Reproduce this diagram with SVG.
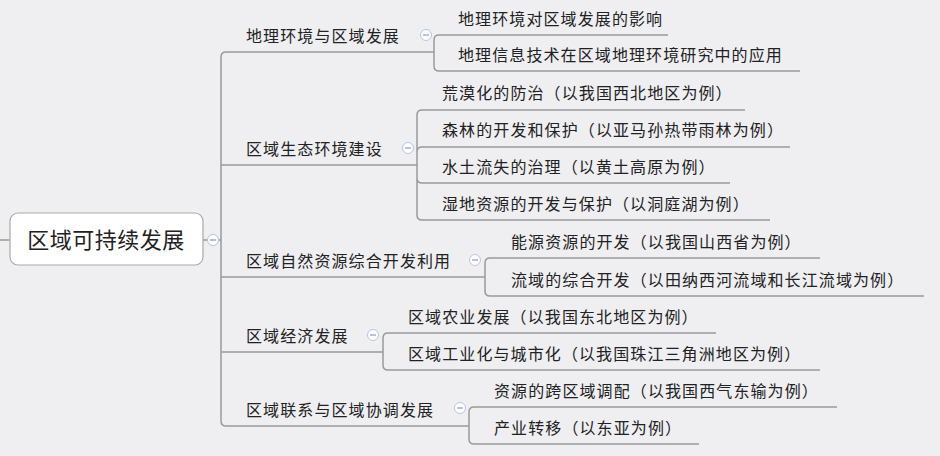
<svg xmlns="http://www.w3.org/2000/svg" width="940" height="456" viewBox="0 0 940 456">
<style>
.c{fill:none;stroke:#9a9a9a;stroke-width:1.5}
text{font-family:"Noto Sans CJK SC","Noto Sans",sans-serif;fill:#222}
.t{font-size:16px;letter-spacing:1.1px}
.r{font-size:22px;letter-spacing:0.5px}
.m{fill:#fff;stroke:#b8c4e8;stroke-width:1}
.mt{stroke:#8a9ad0;stroke-width:1.2}
</style>
<rect width="940" height="456" fill="#efeff2"/>
<g id="connectors">
<path class="c" d="M0 240H10M203 240H221"/>
<path class="c" d="M221 240V57Q221 52 226 52H434M221 240V421Q221 426 226 426H469M221 165H417M221 277H485M221 352H383"/>
<path class="c" d="M434 52V40Q434 35 439 35H668M434 52V66Q434 71 439 71H800"/>
<path class="c" d="M417 165V115Q417 110 422 110H745M417 165V152Q417 147 422 147H790M417 165V178Q417 183 422 183H730M417 165V215Q417 220 422 220H770"/>
<path class="c" d="M485 277V263Q485 258 490 258H820M485 277V291Q485 296 490 296H924"/>
<path class="c" d="M383 352V338Q383 333 388 333H716M383 352V365Q383 370 388 370H820"/>
<path class="c" d="M469 426V412Q469 407 474 407H837M469 426V439Q469 444 474 444H699"/>
</g>
<g id="root"><rect x="10" y="213" width="193" height="52" rx="8" fill="#fff" stroke="#aaa" stroke-width="1.2"/><text class="r" x="106" y="248" text-anchor="middle">区域可持续发展</text></g>
<g id="b1"><text class="t" x="246" y="42">地理环境与区域发展</text></g>
<g id="b2"><text class="t" x="246" y="155">区域生态环境建设</text></g>
<g id="b3"><text class="t" x="246" y="267">区域自然资源综合开发利用</text></g>
<g id="b4"><text class="t" x="246" y="342">区域经济发展</text></g>
<g id="b5"><text class="t" x="246" y="416">区域联系与区域协调发展</text></g>
<g id="c11"><text class="t" x="458" y="25">地理环境对区域发展的影响</text></g>
<g id="c12"><text class="t" x="458" y="61">地理信息技术在区域地理环境研究中的应用</text></g>
<g id="c21"><text class="t" x="442" y="99">荒漠化的防治（以我国西北地区为例）</text></g>
<g id="c22"><text class="t" x="442" y="136">森林的开发和保护（以亚马孙热带雨林为例）</text></g>
<g id="c23"><text class="t" x="442" y="173">水土流失的治理（以黄土高原为例）</text></g>
<g id="c24"><text class="t" x="442" y="210">湿地资源的开发与保护（以洞庭湖为例）</text></g>
<g id="c31"><text class="t" x="511" y="248">能源资源的开发（以我国山西省为例）</text></g>
<g id="c32"><text class="t" x="511" y="286">流域的综合开发（以田纳西河流域和长江流域为例）</text></g>
<g id="c41"><text class="t" x="408" y="323">区域农业发展（以我国东北地区为例）</text></g>
<g id="c42"><text class="t" x="408" y="360">区域工业化与城市化（以我国珠江三角洲地区为例）</text></g>
<g id="c51"><text class="t" x="494" y="397">资源的跨区域调配（以我国西气东输为例）</text></g>
<g id="c52"><text class="t" x="494" y="434">产业转移（以东亚为例）</text></g>
<g id="toggles">
<circle class="m" cx="213" cy="240" r="5.5"/><path class="mt" d="M210 240h6"/>
<circle class="m" cx="426" cy="35" r="5.5"/><path class="mt" d="M423 35h6"/>
<circle class="m" cx="408" cy="148" r="5.5"/><path class="mt" d="M405 148h6"/>
<circle class="m" cx="475" cy="260" r="5.5"/><path class="mt" d="M472 260h6"/>
<circle class="m" cx="373" cy="335" r="5.5"/><path class="mt" d="M370 335h6"/>
<circle class="m" cx="460" cy="408" r="5.5"/><path class="mt" d="M457 408h6"/>
</g>
</svg>
